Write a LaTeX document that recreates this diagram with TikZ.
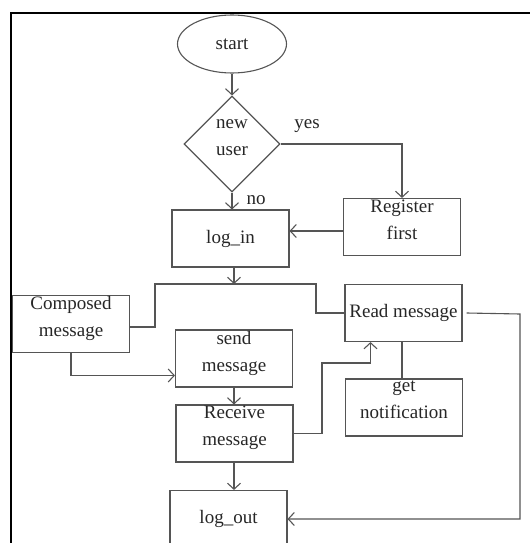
\documentclass[tikz,border=0pt]{standalone}
\usepackage{fontspec}
\setmainfont{Liberation Serif}
\usetikzlibrary{shapes,positioning}
\usetikzlibrary{arrows.meta}
\usetikzlibrary{calc}

\definecolor{linegray}{RGB}{85,85,85}

\begin{document}
\begin{tikzpicture}[x=1pt,y=-1pt,
   every node/.style={font=\fontsize{19}{27}\selectfont,text=black!85},
   box/.style={draw=linegray,line width=1.1pt,minimum width=117pt,minimum height=57pt,
      inner sep=0pt,align=center},
   twoline/.style={text depth=15pt},
   flow/.style={draw=linegray,line width=1.1pt},
   arr/.style={flow,-{Straight Barb[length=6pt,width=13pt]}}]

\clip (0,0) rectangle (530,543);
\draw[line width=2pt] (11,543) -- (11,13) -- (530,13);

\node[ellipse,draw=linegray,line width=1.1pt,minimum width=109pt,minimum height=58pt,
   inner sep=0pt] (start) at (232,44) {start};
\node[diamond,draw=linegray,line width=1.1pt,minimum width=96pt,minimum height=96pt,
   inner sep=0pt,align=center,text depth=12pt] (newuser) at (232,144) {new\\user};

\node[box]         (login)    at (230.5,238.5) {log\_in};
\node[box,twoline] (register) at (402,227)     {Register\\first};
\node[box,twoline] (composed) at (71,324)      {Composed\\message};
\node[box,twoline] (send)     at (234,358.5)   {send\\message};
\node[box,twoline] (receive)  at (234.5,433.5) {Receive\\message};
\node[box]         (read)     at (403.5,313)   {Read message};
\node[box,twoline] (notify)   at (404,407.5)   {get\\notification};
\node[box]         (logout)   at (228.5,519)   {log\_out};

\coordinate (j)  at (234,284);
\coordinate (jl) at (155,284);
\coordinate (jr) at (316,284);
\coordinate (rr) at (322,363);
\coordinate (rc) at (520,314);

\draw[arr] (start) -- (newuser);
\draw[arr] (newuser.east) -| (register.north);
\draw[arr] (newuser.south) -- (newuser.south |- login.north);
\draw[arr] ([yshift=-4pt]register.west) -- ([yshift=-4pt]register.west -| login.east);
\draw[arr] (login.south -| j) -- (j);

\draw[flow] ([yshift=-3pt]composed.east) -| (jl) -- (jr) |- (read.west);
\draw[arr]  (composed.south) |- ([yshift=-17pt]send.west);
\draw[arr]  (send.south -| j) -- (receive.north -| j);
\draw[arr]  (receive.east) -| (rr) -| ([xshift=-33pt]read.south);
\draw[flow] (notify.north -| 402,0) -- (read.south -| 402,0);
\draw[arr]  ([xshift=4pt]read.east) -- (rc) |- (logout.east);
\draw[arr]  (receive.south -| j) -- (logout.north -| j);

\node at (307,126) {yes};
\node at (256,200) {no};

\end{tikzpicture}
\end{document}
